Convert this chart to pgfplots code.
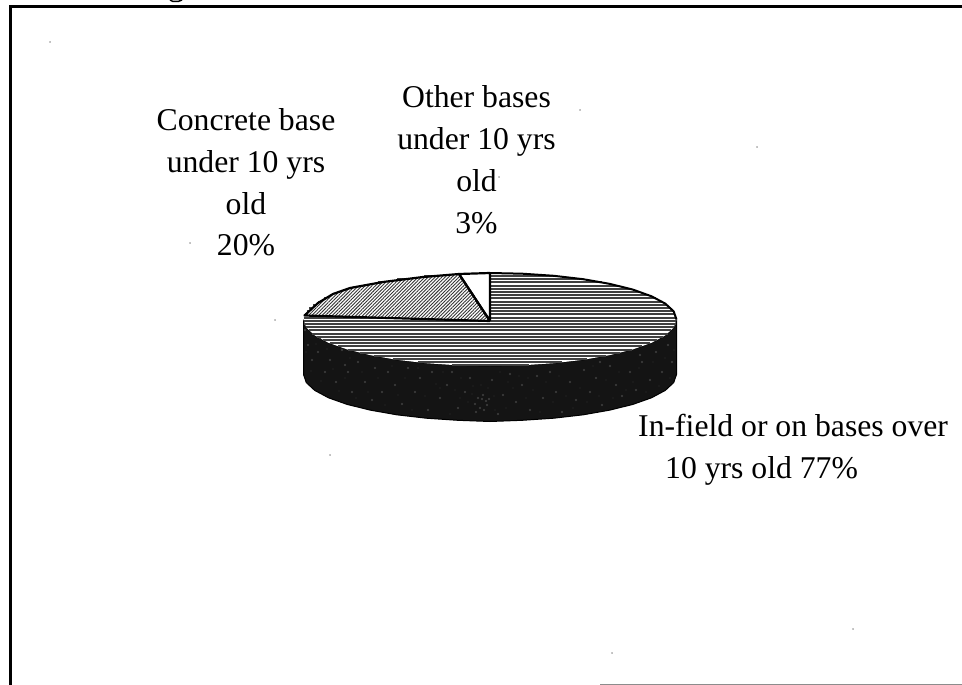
\documentclass[border=0pt]{standalone}
\usepackage{fontspec}
\setmainfont{Liberation Serif}
\usepackage{pgfplots}
\usepackage{pgfplotstable}
\pgfplotsset{compat=1.18}
\usetikzlibrary{patterns.meta}
\tikzset{lab/.style={font=\fontsize{31.7}{38}\selectfont, anchor=base, inner sep=0pt, text=black}}

% outlines in picture pixels, y downwards
\pgfplotstableread{
x y
303.5 319.5
306.3 327.6
314.7 335.4
328.5 342.8
347.1 349.4
370.1 355.1
396.8 359.8
426.2 363.2
457.6 365.3
490.0 366.0
522.4 365.3
553.8 363.2
583.2 359.8
609.9 355.1
632.9 349.4
651.5 342.8
665.3 335.4
673.7 327.6
676.5 319.5
676.5 374.5
673.7 382.6
665.3 390.4
651.5 397.8
632.9 404.4
609.9 410.1
583.2 414.8
553.8 418.2
522.4 420.3
490.0 421.5
457.6 420.3
426.2 418.2
396.8 414.8
370.1 410.1
347.1 404.4
328.5 397.8
314.7 390.4
306.3 382.6
303.5 374.5
303.5 319.5
}\sidewall

% horizontal hatch of the 77% slice, one segment per row
\pgfplotstableread{
x y
424.1 276.0
555.9 276.0
nan nan
397.0 279.2
583.0 279.2
nan nan
377.6 282.4
602.4 282.4
nan nan
362.3 285.6
617.7 285.6
nan nan
349.9 288.8
630.1 288.8
nan nan
339.6 292.0
640.4 292.0
nan nan
331.0 295.2
649.0 295.2
nan nan
323.8 298.4
656.2 298.4
nan nan
317.9 301.6
662.1 301.6
nan nan
313.1 304.8
666.9 304.8
nan nan
309.3 308.0
670.7 308.0
nan nan
306.5 311.2
673.5 311.2
nan nan
304.6 314.4
675.4 314.4
nan nan
303.7 317.6
676.3 317.6
nan nan
303.6 320.8
676.4 320.8
nan nan
304.4 324.0
675.6 324.0
nan nan
306.1 327.2
673.9 327.2
nan nan
308.7 330.4
671.3 330.4
nan nan
312.3 333.6
667.7 333.6
nan nan
316.9 336.8
663.1 336.8
nan nan
322.6 340.0
657.4 340.0
nan nan
329.6 343.2
650.4 343.2
nan nan
337.9 346.4
642.1 346.4
nan nan
347.8 349.6
632.2 349.6
nan nan
359.8 352.8
620.2 352.8
nan nan
374.4 356.0
605.6 356.0
nan nan
392.9 359.2
587.1 359.2
nan nan
418.1 362.4
561.9 362.4
nan nan
451.5 365.0
528.5 365.0
}\infieldrows

\pgfplotstableread{
x y
303.5 319.5
306.3 327.6
314.7 335.4
328.5 342.8
347.1 349.4
370.1 355.1
396.8 359.8
426.2 363.2
457.6 365.3
490.0 366.0
522.4 365.3
553.8 363.2
583.2 359.8
609.9 355.1
632.9 349.4
651.5 342.8
665.3 335.4
673.7 327.6
676.5 319.5
673.7 311.4
665.3 303.6
651.5 296.3
632.9 289.6
609.9 283.9
583.2 279.2
553.8 275.8
522.4 273.7
490.0 273.0
457.6 273.7
426.2 275.8
396.8 279.2
370.1 283.9
347.1 289.6
328.5 296.3
314.7 303.6
306.3 311.4
303.5 319.5
}\topface

\pgfplotstableread{
x y
490.0 321.0
304.5 315.5
318.0 303.0
333.0 294.0
350.0 288.0
383.0 282.0
423.0 277.0
459.0 274.0
490.0 321.0
}\concrete

\pgfplotstableread{
x y
490.0 321.0
459.0 274.0
490.0 273.0
490.0 321.0
}\otherbases

\begin{document}
\begin{tikzpicture}
\begin{axis}[
  scale only axis,
  width=962pt,
  height=685pt,
  xmin=0, xmax=962,
  ymin=0, ymax=685,
  y dir=reverse,
  hide axis,
  clip=true,
  unbounded coords=jump,
  every axis plot/.append style={line join=round},
]
% frame of the scanned page
\addplot[black, line width=3pt] coordinates {(10,685) (10,6.5)};
\addplot[black, line width=2.2pt] coordinates {(9,6.5) (962,6.5)};
\addplot[black!45, line width=1.5pt] coordinates {(600,684.5) (962,684.5)};
% cut off title descender
\addplot[black, line width=1.5pt] coordinates {(170,0) (173,1.5) (178,1.5) (182,0)};
% stray scan specks
\addplot[only marks, mark=*, mark size=0.5pt, black!50] coordinates {
  (50,42) (612,653) (853,629) (499,177) (190,243) (275,320) (757,147) (330,455) (580,110)
};

% pie
\addplot[fill=black!92, draw=black, line width=1pt] table[x=x,y=y] {\sidewall};
\addplot[only marks, mark=*, mark size=1.1pt, draw=none, fill=black!20] coordinates {
  (308,345) (312,360) (318,352) (325,372) (330,360) (336,382) (342,350) (348,372)
  (352,392) (358,362) (365,382) (372,400) (375,368) (382,392) (388,372) (395,385)
  (402,404) (408,368) (415,392) (420,378) (428,410) (432,372) (440,398) (447,385)
  (452,372) (458,408) (465,392) (470,378) (476,412) (482,399) (487,405) (492,380)
  (498,414) (503,395) (510,374) (516,402) (522,385) (530,410) (537,376) (543,398)
  (550,372) (556,392) (562,412) (570,382) (576,400) (584,370) (590,392) (596,378)
  (602,405) (610,366) (616,385) (622,396) (630,372) (636,390) (642,362) (650,380)
  (656,352) (662,372) (668,345) (672,362) (483,395) (486,401) (480,408) (489,399)
  (478,398) (484,410) (475,404) (305,330) (320,338) (345,365) (600,362) (640,355)
};
\addplot[only marks, mark=*, mark size=0.7pt, draw=none, fill=black!35] coordinates {
  (306,352) (311,371) (316,344) (321,381) (327,349) (333,369) (339,391) (345,378)
  (350,358) (356,398) (362,372) (368,392) (378,378) (385,405) (392,366) (398,395)
  (405,378) (412,410) (418,368) (425,396) (436,384) (443,372) (450,414) (455,390)
  (461,378) (468,402) (473,386) (494,396) (500,372) (506,408) (513,388) (519,376)
  (526,398) (533,390) (540,412) (546,382) (553,402) (559,376) (566,396) (573,408)
  (580,388) (587,402) (593,366) (599,396) (606,380) (613,398) (619,372) (626,390)
  (633,382) (639,368) (646,392) (653,362) (659,386) (665,358) (670,378) (674,350)
  (488,388) (481,385) (472,394) (495,410) (508,382) (460,398) (440,388) (528,378)
};
\addplot[fill=white, draw=none] table[x=x,y=y] {\topface};
\addplot[black!75, line width=1.9pt] table[x=x,y=y] {\infieldrows};
\addplot[fill=white, draw=none] table[x=x,y=y] {\concrete};
\addplot[draw=none, pattern={Lines[angle=45,distance=2.4pt,line width=0.9pt]}, pattern color=black!80] table[x=x,y=y] {\concrete};
\addplot[fill=white, draw=none] table[x=x,y=y] {\otherbases};
% slice edges
\addplot[black, line width=2.2pt] table[x=x,y=y] {\concrete};
\addplot[black, line width=2.2pt] table[x=x,y=y] {\otherbases};
\addplot[black, line width=2pt] coordinates {
  (490,273) (522.4,273.7) (553.8,275.8) (583.2,279.2) (609.9,283.9) (632.9,289.6)
  (651.5,296.3) (665.3,303.6) (673.7,311.4) (676.5,319.5)
};

% labels, one node per line since the lines sit on their own baselines
\node[lab] at (axis cs:246,130) {Concrete base};
\node[lab] at (axis cs:246,172) {under 10 yrs};
\node[lab] at (axis cs:246,214) {old};
\node[lab] at (axis cs:246,255) {20\%};
\node[lab] at (axis cs:476.5,107) {Other bases};
\node[lab] at (axis cs:476.5,149) {under 10 yrs};
\node[lab] at (axis cs:476.5,191.5) {old};
\node[lab] at (axis cs:476.5,233) {3\%};
\node[lab, anchor=base west] at (axis cs:638,436) {In-field or on bases over};
\node[lab, anchor=base west] at (axis cs:665,478) {10 yrs old 77\%};
\end{axis}
% hide axis leaves the page to the ink alone, so fix it to the full sheet
\pgfresetboundingbox
\path[use as bounding box] (0,0) rectangle (962pt,685pt);
\end{tikzpicture}
\end{document}
